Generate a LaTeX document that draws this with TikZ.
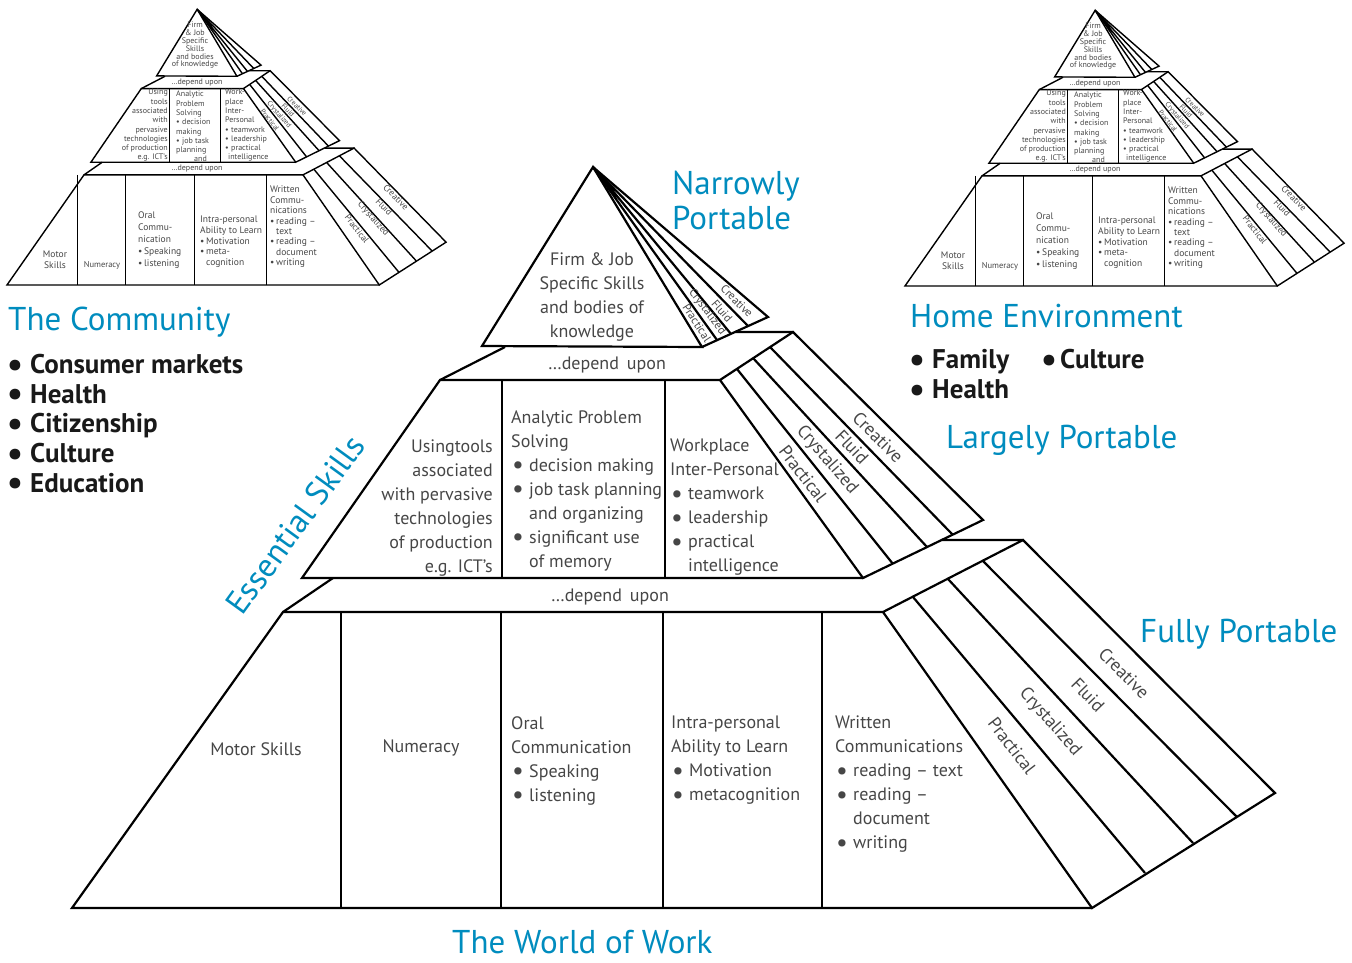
\documentclass[tikz,border=0pt]{standalone}
\usepackage{fontspec}
\setmainfont{PT Sans}
\usetikzlibrary{positioning,calc}
\definecolor{portblue}{RGB}{0,140,190}
\definecolor{inkgray}{RGB}{70,70,70}
\tikzset{font=\fontsize{18}{24}\selectfont}
\newcommand{\dotmark}{\raisebox{-0.16em}{\scalebox{1.45}{\textbullet}}}
\newcommand{\bul}{\makebox[18pt][l]{\hspace*{1pt}\dotmark}}
\newcommand{\ind}{\hspace*{18pt}}
\newcommand{\sbul}{\makebox[6pt][l]{\textbullet}}
\newcommand{\ldot}{\raisebox{-0.1em}{\scalebox{1.3}{\textbullet}}}
\newcommand{\lbul}{\makebox[23pt][l]{\ldot}}

% outline of one pyramid, middle and bottom dividers as arguments
\newcommand{\pyrlines}[6]{%
	\draw[frame] (593,167) -- (482,346) -- (702,347) -- cycle;
	\draw[frame] (702,347) -- (768,317) -- (593,167);
	\draw[frame] (593,167) -- (717,340) (593,167) -- (731,334) (593,167) -- (748,326);
	\draw[frame] (505,347) -- (440,380) (735,332) -- (793,332);
	\draw[frame] (720,380) -- (440,380) -- (302,578) -- (863,578);
	\draw[cell ] (#1,380) -- (#1,578) (#2,380) -- (#2,578);
	\draw[frame] (720,380) -- (793,332) -- (983,520) -- (863,578) -- cycle;
	\draw[frame] (737,369) -- (893,564) (753,358) -- (927,547) (770,347) -- (953,535);
	\draw[frame] (333,578) -- (283,612) (942,540) -- (1023,540);
	\draw[frame] (883,612) -- (283,612) -- (72,908) -- (1092,908);
	\draw[cell ] (#3,612) -- (#3,908) (#4,612) -- (#4,908) (#5,612) -- (#5,908) (#6,612) -- (#6,908);
	\draw[frame] (883,612) -- (1023,540) -- (1275,793) -- (1092,908) -- cycle;
	\draw[frame] (913,597) -- (1145,873) (948,579) -- (1193,843) (983,561) -- (1237,817);
}

% small copy with its own text
\newcommand{\smallpyramid}{%
	\begin{scope}[shift={(-19.3,-52.8)}, xscale=0.365, yscale=0.372,
			frame/.style={line width=1.4pt}, cell/.style={line width=0.8pt}]
		\pyrlines{518}{658}{265}{397}{586}{782}
	\end{scope}
	\begin{scope}[every node/.style={inner sep=0pt, text=inkgray, font=\fontsize{8}{9.3}\selectfont}]
		\node[anchor=north, align=center, font=\fontsize{8}{7.8}\selectfont] (sfirm) at (195,22) {Firm\\\& Job\\Specific\\Skills\\and bodies\\of knowledge};
		\node (sdepa) at (197,82) {\ldots depend upon};
		\node[anchor=north east, align=right] (stools) at (168,89) {Using\\tools\\associated\\with\\pervasive\\technologies\\of production\\e.g. ICT’s};
		\node[anchor=north west, align=left] (sanalytic) at (176,91) {Analytic\\Problem\\Solving\\\sbul decision\\making\\\sbul job task\\planning\\\hspace*{18pt}and};
		\node[anchor=north west, align=left] (sworkpl) at (225,89) {Work-\\place\\Inter-\\Personal\\\sbul teamwork\\\sbul leadership\\\sbul practical\\\hspace*{3pt}intelligence};
		\node[rotate=-45, font=\fontsize{7}{8}\selectfont] (smcre) at (297,106) {Creative};
		\node[rotate=-46, font=\fontsize{7}{8}\selectfont] (smflu) at (288,110) {Fluid};
		\node[rotate=-49, font=\fontsize{7}{8}\selectfont] (smcry) at (279,115) {Crystalized};
		\node[rotate=-52, font=\fontsize{7}{8}\selectfont] (smpra) at (270,120) {Practical};
		\node (sdepb) at (197,168) {\ldots depend upon};
		\node[align=center, font=\fontsize{9.5}{10.6}\selectfont] (smotor) at (55,260) {Motor\\Skills};
		\node[font=\fontsize{8.5}{10}\selectfont] (snumer) at (102,265) {Numeracy};
		\node[anchor=north west, align=left, font=\fontsize{9.5}{11.8}\selectfont] (soral) at (138,212) {Oral\\Commu-\\nication\\\sbul Speaking\\\sbul listening};
		\node[anchor=north west, align=left, font=\fontsize{9.5}{10.7}\selectfont] (sintra) at (200,216) {Intra-personal\\Ability to Learn\\\sbul Motivation\\\sbul meta-\\\hspace*{6pt}cognition};
		\node[anchor=north west, align=left, font=\fontsize{9.5}{10.4}\selectfont] (swritten) at (270,186) {Written\\Commu-\\nications\\\sbul reading --\\\hspace*{6pt}text\\\sbul reading --\\\hspace*{6pt}document\\\sbul writing};
		\node[rotate=-52, font=\fontsize{9}{10}\selectfont] (sbpra) at (357,229) {Practical};
		\node[rotate=-48, font=\fontsize{9}{10}\selectfont] (sbcry) at (373,219) {Crystalized};
		\node[rotate=-46, font=\fontsize{9}{10}\selectfont] (sbflu) at (384,207) {Fluid};
		\node[rotate=-45, font=\fontsize{9}{10}\selectfont] (sbcre) at (396,197) {Creative};
	\end{scope}
}

\begin{document}
\begin{tikzpicture}[x=1pt, y=-1pt, line join=miter,
		frame/.style={line width=2.2pt},
		cell/.style={line width=1.2pt},
		body/.style={inner sep=0pt, text=inkgray},
		strip/.style={inner sep=0pt, text=inkgray},
		head/.style={inner sep=0pt, text=portblue, font=\fontsize{33}{36}\selectfont},
		item/.style={inner sep=0pt, text=black!90, font=\bfseries\fontsize{27}{29.7}\selectfont}]
	\useasboundingbox (0,0) rectangle (1352,962);

	% the two small pyramids
	\smallpyramid
	\begin{scope}[shift={(898,1)}]
		\smallpyramid
	\end{scope}

	% the big pyramid
	\pyrlines{502}{665}{341}{501}{663}{822}

	\node[body, anchor=north, align=center] (firm) at (592,252) {Firm \& Job\\Specific Skills\\and bodies of\\knowledge};
	\node[strip, rotate=-57, font=\fontsize{11.5}{12}\selectfont] (tpra) at (697,323) {Practical};
	\node[strip, rotate=-53, font=\fontsize{11.5}{12}\selectfont] (tcry) at (707,312) {Crystalized};
	\node[strip, rotate=-49, font=\fontsize{11.5}{12}\selectfont] (tflu) at (722,311) {Fluid};
	\node[strip, rotate=-45, font=\fontsize{11.5}{12}\selectfont] (tcre) at (737,301) {Creative};

	\node[body] (depa) at (607,365) {\ldots depend\hspace{8pt}upon};
	\node[body, anchor=north east, align=right] (tools) at (493,440) {Usingtools\\associated\\with pervasive\\technologies\\of production\\e.g. ICT’s};
	\node[body, anchor=north west, align=left] (analytic) at (511,410) {Analytic Problem\\Solving\\\bul decision making\\\bul job task planning\\\ind and organizing\\\bul significant use\\\ind of memory};
	\node[body, anchor=north west, align=left] (workpl) at (670,439) {Workplace\\Inter-Personal\\\bul teamwork\\\bul leadership\\\bul practical\\\ind intelligence};
	\node[strip, rotate=-52.5] (mpra) at (803,474) {Practical};
	\node[strip, rotate=-49] (mcry) at (827,460) {Crystalized};
	\node[strip, rotate=-46.5] (mflu) at (852,447) {Fluid};
	\node[strip, rotate=-45] (mcre) at (878,437) {Creative};

	\node[body] (depb) at (610,597) {\ldots depend\hspace{8pt}upon};
	\node[body] (motor) at (256,749) {Motor Skills};
	\node[body] (numer) at (421,748) {Numeracy};
	\node[body, anchor=north west, align=left] (oral) at (511,716) {Oral\\Communication\\\bul Speaking\\\bul listening};
	\node[body, anchor=north west, align=left] (intra) at (671,716) {Intra-personal\\Ability to Learn\\\bul Motivation\\\bul metacognition};
	\node[body, anchor=north west, align=left] (written) at (835,716) {Written\\Communications\\\bul reading -- text\\\bul reading --\\\ind document\\\bul writing};
	\node[strip, rotate=-52.5] (bpra) at (1012,746) {Practical};
	\node[strip, rotate=-48.5] (bcry) at (1050,722) {Crystalized};
	\node[strip, rotate=-46] (bflu) at (1088,695) {Fluid};
	\node[strip, rotate=-45] (bcre) at (1124,673) {Creative};

	% headings and lists
	\node[head, anchor=base west] (narrow) at (672,194) {Narrowly};
	\node[head, anchor=base west] (narrowport) at (672,229) {Portable};
	\node[head, anchor=base west] (largely) at (946,448) {Largely Portable};
	\node[head, anchor=base west] (fully) at (1140,642) {Fully Portable};
	\node[head, anchor=base west] (world) at (452,953) {The World of Work};
	\node[head, rotate=54] (essential) at (295,525) {Essential Skills};
	\node[head, anchor=base west] (community) at (8,330) {The Community};
	\node[item, anchor=north west, align=left] (commlist) at (7,354) {\lbul Consumer markets\\\lbul Health\\\lbul Citizenship\\\lbul Culture\\\lbul Education};
	\node[head, anchor=base west] (home) at (910,327) {Home Environment};
	\node[item, anchor=north west, align=left, font=\bfseries\fontsize{27}{30}\selectfont] (homelist) at (909,349) {\makebox[132pt][l]{\lbul Family}\makebox[19pt][l]{\ldot}Culture\\\lbul Health};
\end{tikzpicture}
\end{document}
